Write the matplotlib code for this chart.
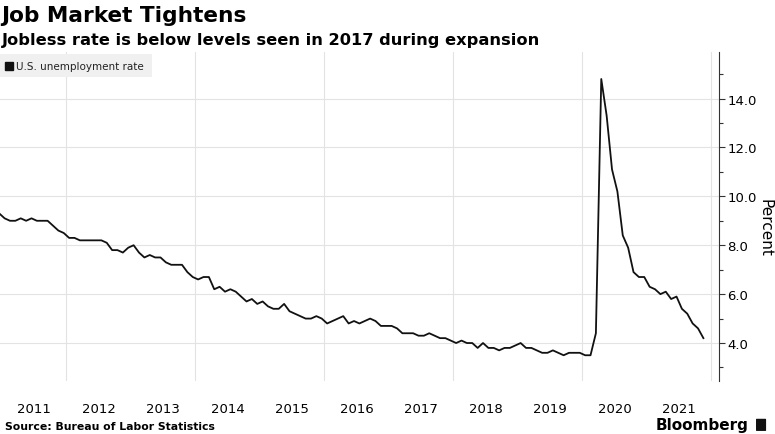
import matplotlib

matplotlib.use("Agg")
import matplotlib.pyplot as plt
from matplotlib.ticker import MultipleLocator, FixedLocator
from matplotlib.patches import Rectangle, FancyBboxPatch

START_YEAR = 2010
START_MONTH = 12  # first point: Dec 2010
RATE = [
    9.3,
    9.1, 9.0, 9.0, 9.1, 9.0, 9.1, 9.0, 9.0, 9.0, 8.8, 8.6, 8.5,  # 2011
    8.3, 8.3, 8.2, 8.2, 8.2, 8.2, 8.2, 8.1, 7.8, 7.8, 7.7, 7.9,  # 2012
    8.0, 7.7, 7.5, 7.6, 7.5, 7.5, 7.3, 7.2, 7.2, 7.2, 6.9, 6.7,  # 2013
    6.6, 6.7, 6.7, 6.2, 6.3, 6.1, 6.2, 6.1, 5.9, 5.7, 5.8, 5.6,  # 2014
    5.7, 5.5, 5.4, 5.4, 5.6, 5.3, 5.2, 5.1, 5.0, 5.0, 5.1, 5.0,  # 2015
    4.8, 4.9, 5.0, 5.1, 4.8, 4.9, 4.8, 4.9, 5.0, 4.9, 4.7, 4.7,  # 2016
    4.7, 4.6, 4.4, 4.4, 4.4, 4.3, 4.3, 4.4, 4.3, 4.2, 4.2, 4.1,  # 2017
    4.0, 4.1, 4.0, 4.0, 3.8, 4.0, 3.8, 3.8, 3.7, 3.8, 3.8, 3.9,  # 2018
    4.0, 3.8, 3.8, 3.7, 3.6, 3.6, 3.7, 3.6, 3.5, 3.6, 3.6, 3.6,  # 2019
    3.5, 3.5, 4.4, 14.8, 13.3, 11.1, 10.2, 8.4, 7.9, 6.9, 6.7, 6.7,  # 2020
    6.3, 6.2, 6.0, 6.1, 5.8, 5.9, 5.4, 5.2, 4.8, 4.6, 4.2,  # 2021
]
YEARS = list(range(2011, 2022))
GRID_YEARS = [2012, 2014, 2016, 2018, 2020, 2022]

# fractional-year position of each monthly point (mid-month)
t = [START_YEAR + (START_MONTH - 1 + i + 0.5) / 12 for i in range(len(RATE))]

fig = plt.figure(figsize=(7.75, 4.35), dpi=100)
ax = fig.add_axes([0.0, 0.122, 0.928, 0.756])

ax.plot(t, RATE, color="#111111", lw=1.3, zorder=3)

ax.set_xlim(2010.97, 2022.12)
ax.set_ylim(2.45, 15.9)

ax.yaxis.tick_right()
ax.yaxis.set_label_position("right")
ax.yaxis.set_minor_locator(MultipleLocator(1))
ax.yaxis.set_major_formatter(matplotlib.ticker.FormatStrFormatter("%.1f"))
ax.set_yticks([4, 6, 8, 10, 12, 14])
ax.tick_params(axis="y", which="major", direction="out", length=4, width=0.8,
               labelsize=9.5, pad=2, color="#333333")
ax.tick_params(axis="y", which="minor", direction="out", length=3, width=0.8,
               color="#333333")
ax.set_ylabel("Percent", rotation=-90, fontsize=11, va="center")
ax.yaxis.set_label_coords(1.064, 0.468)

ax.set_xticks([y + 0.5 for y in YEARS])
ax.set_xticklabels([str(y) for y in YEARS])
ax.xaxis.set_minor_locator(FixedLocator(GRID_YEARS))
ax.tick_params(axis="x", which="both", length=0, labelsize=9.5, pad=15)

ax.grid(axis="y", which="major", color="#e3e3e3", lw=0.8)
ax.grid(axis="x", which="minor", color="#e3e3e3", lw=0.8)
ax.set_axisbelow(True)

for sp in ("top", "left", "bottom"):
    ax.spines[sp].set_visible(False)
ax.spines["right"].set_color("#333333")

# legend box
ax.add_patch(Rectangle((0, 0.923), 0.212, 0.072, transform=ax.transAxes,
                       facecolor="#f0f0f0", edgecolor="none", zorder=2))
ax.plot([0.013], [0.958], marker="s", ms=5.5, color="#111111",
        transform=ax.transAxes, zorder=4)
ax.text(0.022, 0.958, "U.S. unemployment rate", transform=ax.transAxes,
        fontsize=7.5, va="center", ha="left", color="#222222", zorder=4)

fig.text(0.002, 0.964, "Job Market Tightens", fontsize=15.6, fontweight="bold",
         va="center", ha="left")
fig.text(0.002, 0.908, "Jobless rate is below levels seen in 2017 during expansion",
         fontsize=11.7, fontweight="bold", va="center", ha="left")
fig.text(0.007, 0.018, "Source: Bureau of Labor Statistics", fontsize=7.8,
         fontweight="bold", va="center", ha="left")
fig.text(0.966, 0.022, "Bloomberg", fontsize=11, fontweight="bold",
         va="center", ha="right")
fig.patches.append(FancyBboxPatch((0.9765, 0.008), 0.011, 0.026,
                                  boxstyle="round,pad=0.001",
                                  transform=fig.transFigure,
                                  facecolor="#111111", edgecolor="none"))

fig.savefig("out.png", dpi=100)
